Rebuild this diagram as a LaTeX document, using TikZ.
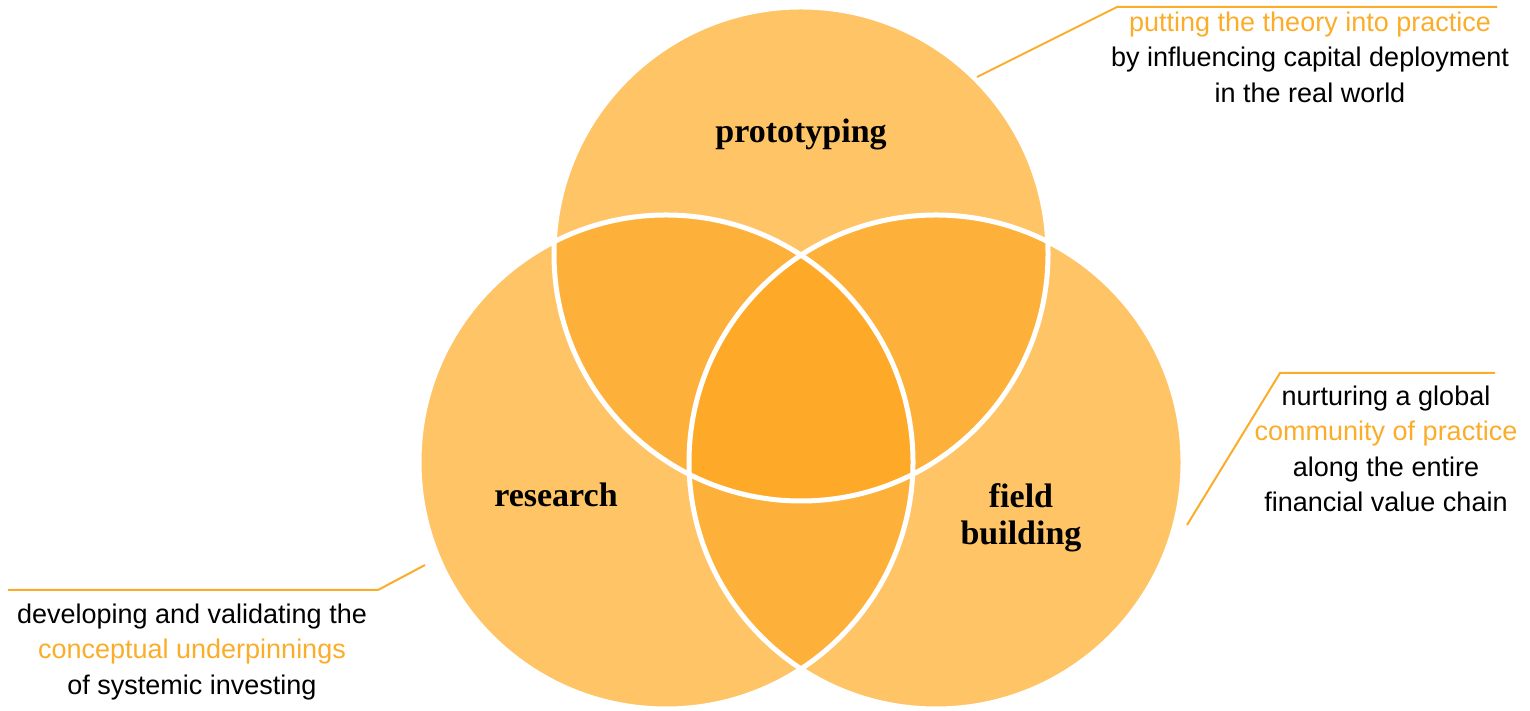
\documentclass[tikz,border=0pt]{standalone}
\usepackage{fontspec}
\setmainfont{Liberation Serif}
\setsansfont{Liberation Sans}
\usepackage{xcolor}
\def\protocircle{   (801pt,457pt) circle (247pt)}
\def\researchcircle{(666pt,249pt) circle (247pt)}
\def\fieldcircle{   (936pt,249pt) circle (247pt)}
\definecolor{one area}{HTML}{FEC466}
\definecolor{two area}{HTML}{FDB13A}
\definecolor{three area}{HTML}{FEAA28}
\definecolor{leader}{HTML}{FBAD2A}
\tikzset{filled/.style={fill=one area},
    outline/.style={draw=white, line width=5pt},
    label/.style={font=\fontsize{34}{37}\selectfont\bfseries, align=center},
    note/.style={font=\sffamily\fontsize{27}{35.5}\selectfont, align=center},
    leaderline/.style={draw=leader, line width=2pt}}
\newcommand{\hl}[1]{\textcolor{leader}{#1}}

\begin{document}
\begin{tikzpicture}[x=1pt,y=1pt]
    \useasboundingbox (0,0) rectangle (1530,711);
    % single areas
    \fill[filled] \protocircle;
    \fill[filled] \researchcircle;
    \fill[filled] \fieldcircle;
    % pairwise overlaps
    \begin{scope}
        \clip \protocircle;
        \fill[two area] \researchcircle;
        \fill[two area] \fieldcircle;
    \end{scope}
    \begin{scope}
        \clip \researchcircle;
        \fill[two area] \fieldcircle;
    \end{scope}
    % centre
    \begin{scope}
        \clip \protocircle;
        \clip \researchcircle;
        \fill[three area] \fieldcircle;
    \end{scope}
    \draw[outline] \protocircle;
    \draw[outline] \researchcircle;
    \draw[outline] \fieldcircle;

    \node[label] (proto)    at (801,577) {prototyping};
    \node[label] (research) at (556,216) {research};
    \node[label] (field)    at (1021,193) {field\\building};

    \node[note] (proto note) at (1310,654)
      {\hl{putting the theory into practice}\\by influencing capital deployment\\in the real world};
    \node[note] (research note) at (192,59)
      {developing and validating the\\\hl{conceptual underpinnings}\\of systemic investing};
    \node[note] (field note) at (1386,262)
      {nurturing a global\\\hl{community of practice}\\along the entire\\financial value chain};

    \coordinate (proto tip)      at (977,634);
    \coordinate (proto bend)     at (1117,704);
    \coordinate (proto end)      at (1497,704);
    \coordinate (research tip)   at (425,146);
    \coordinate (research bend)  at (378,121);
    \coordinate (research end)   at (8,121);
    \coordinate (field tip)      at (1187,186);
    \coordinate (field bend)     at (1280,338);
    \coordinate (field end)      at (1495,338);
    \draw[leaderline] (proto tip) -- (proto bend) -- (proto end);
    \draw[leaderline] (research tip) -- (research bend) -- (research end);
    \draw[leaderline] (field tip) -- (field bend) -- (field end);
\end{tikzpicture}
\end{document}
